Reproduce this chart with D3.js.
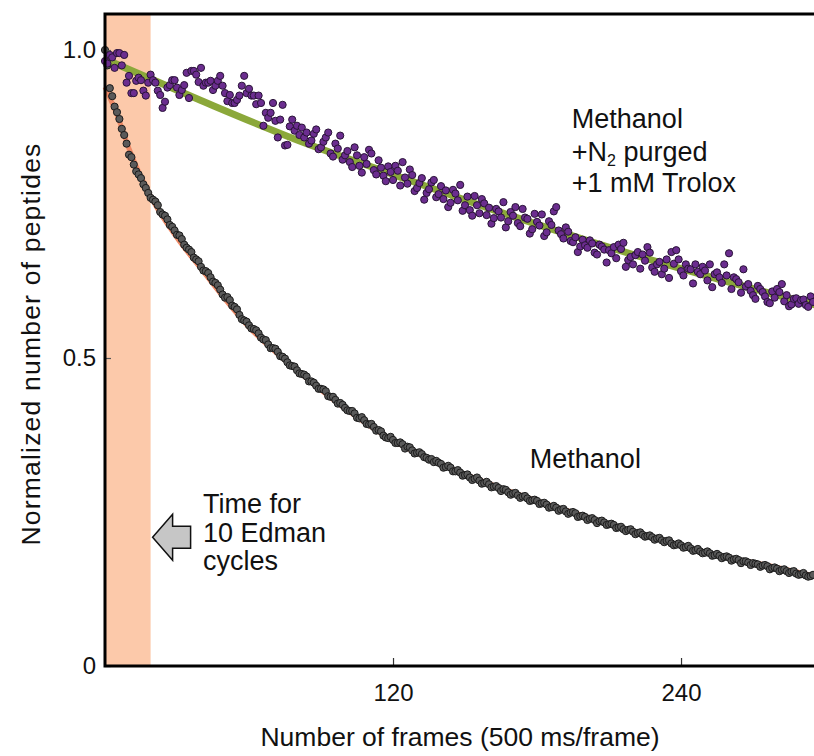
<!DOCTYPE html>
<html>
<head>
<meta charset="utf-8">
<script src="https://cdn.jsdelivr.net/npm/d3@7"></script>
<style>
  body { margin: 0; background: #fff; }
  svg text { font-family: "Liberation Sans", Arial, Helvetica, sans-serif; fill: #111; }
</style>
</head>
<body>
<svg width="814" height="756"></svg>
<script>
// One reading per frame (500 ms/frame); stored as even frames 0,2,..,294 and odd frames 1,3,..,295

// Methanol + N2 purged + 1 mM Trolox (purple points)
const troloxEven = [
  0.982, 0.992, 0.971, 0.995, 0.992, 0.958, 0.930, 0.955, 0.934, 0.947,
  0.951, 0.934, 0.906, 0.939, 0.951, 0.939, 0.935, 0.963, 0.966, 0.960,
  0.971, 0.947, 0.950, 0.942, 0.958, 0.930, 0.927, 0.914, 0.926, 0.958,
  0.937, 0.926, 0.926, 0.877, 0.890, 0.914, 0.858, 0.911, 0.846, 0.887,
  0.877, 0.874, 0.866, 0.853, 0.871, 0.842, 0.858, 0.832, 0.848, 0.861,
  0.829, 0.818, 0.842, 0.812, 0.826, 0.838, 0.805, 0.821, 0.796, 0.811,
  0.789, 0.804, 0.818, 0.783, 0.797, 0.776, 0.792, 0.768, 0.785, 0.761,
  0.779, 0.772, 0.752, 0.767, 0.781, 0.748, 0.740, 0.763, 0.735, 0.751,
  0.744, 0.727, 0.738, 0.753, 0.722, 0.731, 0.719, 0.742, 0.726, 0.709,
  0.721, 0.733, 0.704, 0.716, 0.745, 0.701, 0.712, 0.690, 0.696, 0.681,
  0.683, 0.691, 0.671, 0.684, 0.676, 0.675, 0.680, 0.684, 0.687, 0.659,
  0.652, 0.672, 0.668, 0.680, 0.647, 0.652, 0.636, 0.660, 0.672, 0.675,
  0.641, 0.652, 0.644, 0.652, 0.636, 0.642, 0.652, 0.636, 0.631, 0.652,
  0.670, 0.631, 0.623, 0.644, 0.620, 0.602, 0.617, 0.607, 0.591, 0.608,
  0.612, 0.620, 0.602, 0.587, 0.597, 0.594, 0.586, 0.600
];
const troloxOdd = [
  0.978, 0.988, 0.995, 0.975, 0.947, 0.930, 0.950, 0.951, 0.926, 0.960,
  0.947, 0.927, 0.916, 0.943, 0.951, 0.927, 0.943, 0.922, 0.966, 0.948,
  0.942, 0.947, 0.935, 0.950, 0.942, 0.917, 0.914, 0.919, 0.942, 0.930,
  0.926, 0.912, 0.914, 0.898, 0.898, 0.885, 0.887, 0.845, 0.876, 0.869,
  0.862, 0.858, 0.848, 0.864, 0.839, 0.851, 0.866, 0.827, 0.840, 0.822,
  0.836, 0.810, 0.829, 0.801, 0.815, 0.832, 0.798, 0.809, 0.787, 0.802,
  0.812, 0.780, 0.793, 0.806, 0.771, 0.784, 0.757, 0.774, 0.789, 0.766,
  0.758, 0.745, 0.773, 0.756, 0.739, 0.762, 0.731, 0.748, 0.758, 0.732,
  0.718, 0.742, 0.728, 0.712, 0.737, 0.745, 0.714, 0.728, 0.702, 0.734,
  0.715, 0.698, 0.722, 0.738, 0.707, 0.694, 0.705, 0.688, 0.672, 0.692,
  0.679, 0.686, 0.668, 0.681, 0.655, 0.670, 0.662, 0.677, 0.648, 0.664,
  0.667, 0.645, 0.658, 0.671, 0.640, 0.656, 0.645, 0.630, 0.653, 0.660,
  0.634, 0.645, 0.621, 0.640, 0.648, 0.626, 0.615, 0.639, 0.622, 0.634,
  0.612, 0.628, 0.606, 0.616, 0.609, 0.596, 0.612, 0.600, 0.589, 0.598,
  0.607, 0.592, 0.584, 0.596, 0.588, 0.595, 0.583, 0.591
];

// Methanol only (grey points)
const methanolEven = [
  1.000, 0.938, 0.908, 0.888, 0.862, 0.830, 0.814, 0.798, 0.782, 0.768,
  0.757, 0.748, 0.733, 0.725, 0.713, 0.700, 0.693, 0.679, 0.672, 0.660,
  0.648, 0.641, 0.631, 0.622, 0.611, 0.598, 0.594, 0.583, 0.570, 0.561,
  0.553, 0.547, 0.540, 0.530, 0.522, 0.516, 0.510, 0.502, 0.493, 0.487,
  0.480, 0.474, 0.470, 0.462, 0.455, 0.450, 0.446, 0.437, 0.432, 0.427,
  0.419, 0.414, 0.410, 0.402, 0.399, 0.392, 0.388, 0.383, 0.374, 0.370,
  0.367, 0.362, 0.360, 0.356, 0.350, 0.346, 0.344, 0.338, 0.336, 0.333,
  0.328, 0.323, 0.322, 0.316, 0.314, 0.310, 0.306, 0.304, 0.301, 0.297,
  0.295, 0.291, 0.289, 0.287, 0.282, 0.280, 0.277, 0.275, 0.272, 0.269,
  0.268, 0.264, 0.262, 0.258, 0.257, 0.254, 0.251, 0.249, 0.248, 0.243,
  0.242, 0.239, 0.237, 0.235, 0.233, 0.230, 0.229, 0.225, 0.222, 0.221,
  0.218, 0.216, 0.213, 0.211, 0.209, 0.207, 0.204, 0.203, 0.199, 0.197,
  0.196, 0.193, 0.191, 0.188, 0.186, 0.184, 0.183, 0.180, 0.179, 0.177,
  0.176, 0.173, 0.172, 0.170, 0.168, 0.167, 0.165, 0.163, 0.162, 0.159,
  0.158, 0.156, 0.154, 0.153, 0.150, 0.149, 0.147, 0.146
];
const methanolOdd = [
  0.975, 0.925, 0.899, 0.872, 0.848, 0.826, 0.803, 0.792, 0.776, 0.760,
  0.754, 0.737, 0.731, 0.716, 0.707, 0.699, 0.684, 0.676, 0.663, 0.657,
  0.642, 0.638, 0.624, 0.618, 0.603, 0.599, 0.585, 0.579, 0.563, 0.559,
  0.548, 0.545, 0.533, 0.529, 0.516, 0.515, 0.503, 0.499, 0.488, 0.486,
  0.475, 0.473, 0.462, 0.460, 0.450, 0.449, 0.438, 0.437, 0.426, 0.424,
  0.415, 0.414, 0.403, 0.404, 0.393, 0.393, 0.382, 0.381, 0.371, 0.372,
  0.362, 0.363, 0.353, 0.355, 0.345, 0.347, 0.339, 0.335, 0.331, 0.330,
  0.322, 0.325, 0.316, 0.318, 0.309, 0.311, 0.302, 0.306, 0.296, 0.299,
  0.290, 0.292, 0.284, 0.286, 0.278, 0.281, 0.273, 0.276, 0.268, 0.270,
  0.263, 0.265, 0.257, 0.260, 0.252, 0.255, 0.247, 0.250, 0.242, 0.244,
  0.237, 0.240, 0.232, 0.236, 0.229, 0.231, 0.224, 0.226, 0.219, 0.222,
  0.214, 0.217, 0.210, 0.212, 0.205, 0.208, 0.201, 0.204, 0.196, 0.199,
  0.192, 0.195, 0.187, 0.190, 0.183, 0.186, 0.179, 0.182, 0.175, 0.178,
  0.171, 0.174, 0.167, 0.170, 0.164, 0.166, 0.161, 0.164, 0.157, 0.160,
  0.154, 0.157, 0.151, 0.154, 0.148, 0.151, 0.145, 0.148
];

// Fitted decay curves
const troloxFitFrames = [0, 40, 80, 120, 160, 200, 240, 280, 296];
const troloxFitValues = [0.985, 0.918, 0.854, 0.798, 0.743, 0.692, 0.645, 0.602, 0.586];
const methanolFitFrames = [0, 5, 10, 20, 30, 40, 60, 80, 100, 120, 140, 160, 180, 200, 220, 240, 260, 280, 296];
const methanolFitValues = [0.94, 0.895, 0.84, 0.755, 0.695, 0.645, 0.55, 0.48, 0.418, 0.366, 0.328, 0.296, 0.268, 0.243, 0.218, 0.195, 0.176, 0.16, 0.146];

// Shaded window: time for 10 Edman cycles (frames)
const edmanWindow = [0, 19];

const xTicks = [120, 240];
const yTicks = [0, 0.5, 1.0];
const yTickLabels = ["0", "0.5", "1.0"];

// Pair each reading with its frame number
const withFrames = (even, odd) =>
    even.map((v, i) => [i * 2, v]).concat(odd.map((v, i) => [i * 2 + 1, v]))
        .sort((a, b) => a[0] - b[0]);
const troloxPts = withFrames(troloxEven, troloxOdd);
const methanolPts = withFrames(methanolEven, methanolOdd);

const svg = d3.select("svg");

const x = d3.scaleLinear().domain([0, 295.4]).range([105, 814]);
const y = d3.scaleLinear().domain([0, 1]).range([666, 50]);
const plotTop = 14;

// Edman window band
svg.append("rect")
    .attr("x", x(edmanWindow[0]))
    .attr("y", plotTop)
    .attr("width", x(edmanWindow[1]) - x(edmanWindow[0]))
    .attr("height", y(0) - plotTop)
    .attr("fill", "#fcc9aa");

// Fit lines
const fitLine = d3.line()
    .x(d => x(d[0]))
    .y(d => y(d[1]))
    .curve(d3.curveMonotoneX);

svg.append("path")
    .datum(methanolFitFrames.map((f, i) => [f, methanolFitValues[i]]))
    .attr("fill", "none")
    .attr("stroke", "#ee8a67")
    .attr("stroke-width", 5)
    .attr("d", fitLine);

svg.append("path")
    .datum(troloxFitFrames.map((f, i) => [f, troloxFitValues[i]]))
    .attr("fill", "none")
    .attr("stroke", "#8ba83a")
    .attr("stroke-width", 7)
    .attr("d", fitLine);

// Points
svg.append("g")
    .selectAll("circle")
    .data(methanolPts)
    .join("circle")
    .attr("cx", d => x(d[0]))
    .attr("cy", d => y(d[1]))
    .attr("r", 3.6)
    .attr("fill", "#5a5a5a")
    .attr("stroke", "#1c1c1c")
    .attr("stroke-width", 1);

svg.append("g")
    .selectAll("circle")
    .data(troloxPts)
    .join("circle")
    .attr("cx", d => x(d[0]))
    .attr("cy", d => y(d[1]))
    .attr("r", 3.6)
    .attr("fill", "#6b2d8f")
    .attr("stroke", "#2a1438")
    .attr("stroke-width", 1);

// Axes
const xAxis = d3.axisBottom(x).tickValues(xTicks).tickSizeInner(-8).tickSizeOuter(0).tickPadding(18);
const gx = svg.append("g")
    .attr("transform", `translate(0,${y(0)})`)
    .call(xAxis);
gx.select(".domain").remove();
gx.selectAll(".tick line").attr("stroke", "#333").attr("stroke-width", 1.2);
gx.selectAll(".tick text").attr("font-size", 24).attr("fill", "#111");

const yAxis = d3.axisLeft(y).tickValues(yTicks).tickFormat((d, i) => yTickLabels[i])
    .tickSizeInner(-6).tickSizeOuter(0).tickPadding(9);
const gy = svg.append("g")
    .attr("transform", `translate(${x(0)},0)`)
    .call(yAxis);
gy.select(".domain").remove();
gy.selectAll(".tick line").attr("stroke", "#555").attr("stroke-width", 1.2);
gy.selectAll(".tick text").attr("font-size", 24).attr("fill", "#111");

// Frame: left, bottom, top
svg.append("path")
    .attr("d", d3.line()([[x(295.4), plotTop], [x(0), plotTop], [x(0), y(0)], [x(295.4), y(0)]]))
    .attr("fill", "none")
    .attr("stroke", "#000")
    .attr("stroke-width", 3);

// Axis titles
svg.append("text")
    .attr("x", 460)
    .attr("y", 746)
    .attr("text-anchor", "middle")
    .attr("font-size", 26.5)
    .text("Number of frames (500 ms/frame)");

svg.append("text")
    .attr("transform", `translate(40,${y(0.5) - 14}) rotate(-90)`)
    .attr("text-anchor", "middle")
    .attr("font-size", 26.5)
    .attr("letter-spacing", 1.2)
    .text("Normalized number of peptides");

// Series labels
const lx = x(194.5);
const lab = svg.append("text")
    .attr("x", lx)
    .attr("y", y(0.873))
    .attr("font-size", 27);
lab.append("tspan").text("Methanol");
const l2 = lab.append("tspan").attr("x", lx).attr("dy", 33);
l2.append("tspan").text("+N");
l2.append("tspan").attr("font-size", 16).attr("dy", 5).text("2");
l2.append("tspan").attr("dy", -5).text(" purged");
lab.append("tspan").attr("x", lx).attr("dy", 31).text("+1 mM Trolox");

svg.append("text")
    .attr("x", x(177))
    .attr("y", y(0.322))
    .attr("font-size", 27)
    .text("Methanol");

// Edman arrow and note
const ax0 = x(edmanWindow[1]) + 2, ay = y(0.209);
const arrow = [[ax0, ay], [ax0 + 20, ay - 23], [ax0 + 20, ay - 11], [ax0 + 38, ay - 11],
               [ax0 + 38, ay + 11], [ax0 + 20, ay + 11], [ax0 + 20, ay + 23]];
svg.append("path")
    .attr("d", d3.line()(arrow) + "Z")
    .attr("fill", "#c6c6c6")
    .attr("stroke", "#111")
    .attr("stroke-width", 1.5);

const nx = x(40.8);
const note = svg.append("text")
    .attr("x", nx)
    .attr("y", 513)
    .attr("font-size", 27);
note.append("tspan").text("Time for");
note.append("tspan").attr("x", nx).attr("dy", 29).text("10 Edman");
note.append("tspan").attr("x", nx).attr("dy", 28).text("cycles");
</script>
</body>
</html>
